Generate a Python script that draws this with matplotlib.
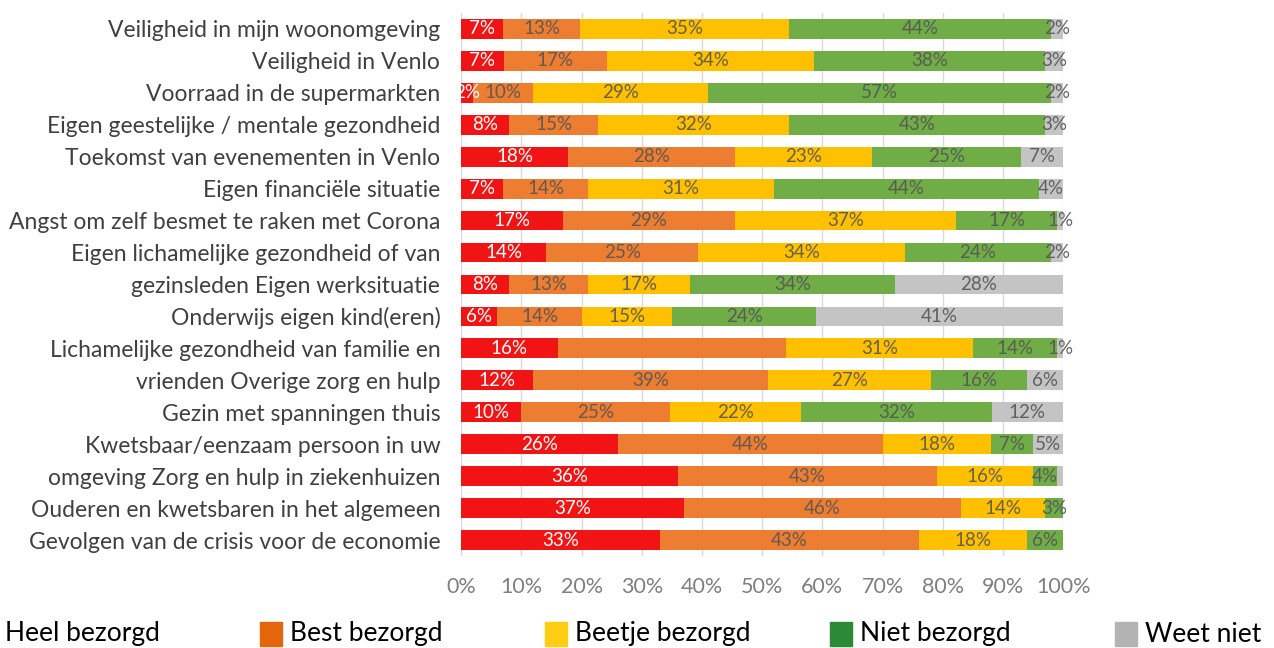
import matplotlib
matplotlib.use("Agg")
import matplotlib.pyplot as plt
import numpy as np
from matplotlib.patches import Rectangle

plt.rcParams["font.family"] = ["Lato", "DejaVu Sans"]

categories = [
    "Veiligheid in mijn woonomgeving",
    "Veiligheid in Venlo",
    "Voorraad in de supermarkten",
    "Eigen geestelijke / mentale gezondheid",
    "Toekomst van evenementen in Venlo",
    "Eigen financiële situatie",
    "Angst om zelf besmet te raken met Corona",
    "Eigen lichamelijke gezondheid of van",
    "gezinsleden Eigen werksituatie",
    "Onderwijs eigen kind(eren)",
    "Lichamelijke gezondheid van familie en",
    "vrienden Overige zorg en hulp",
    "Gezin met spanningen thuis",
    "Kwetsbaar/eenzaam persoon in uw",
    "omgeving Zorg en hulp in ziekenhuizen",
    "Ouderen en kwetsbaren in het algemeen",
    "Gevolgen van de crisis voor de economie",
]

series_names = ["Heel bezorgd", "Best bezorgd", "Beetje bezorgd", "Niet bezorgd", "Weet niet"]

heel = [7, 7, 2, 8, 18, 7, 17, 14, 8, 6, 16, 12, 10, 26, 36, 37, 33]
best = [13, 17, 10, 15, 28, 14, 29, 25, 13, 14, 38, 39, 25, 44, 43, 46, 43]
beetje = [35, 34, 29, 32, 23, 31, 37, 34, 17, 15, 31, 27, 22, 18, 16, 14, 18]
niet = [44, 38, 57, 43, 25, 44, 17, 24, 34, 24, 14, 16, 32, 7, 4, 3, 6]
weet = [2, 3, 2, 3, 7, 4, 1, 2, 28, 41, 1, 6, 12, 5, 1, 0, 0]

# segments shown without a value label in the original (row, series)
unlabeled = {(10, 1), (14, 4)}

bar_colors = ["#f01414", "#ed7d31", "#ffc000", "#70ad47", "#c4c4c4"]
legend_colors = ["#f01414", "#e4650c", "#ffcc14", "#2b8a36", "#b3b3b3"]

data = np.array([heel, best, beetje, niet, weet], dtype=float)
# rounded percentages don't always add to 100; bars are stretched to 100%
shares = data / data.sum(axis=0) * 100

fig = plt.figure(figsize=(12.74, 6.48), dpi=100)
ax = fig.add_axes([0.362, 0.142, 0.4725, 0.838])

y = np.arange(len(categories))
left = np.zeros(len(categories))
for s in range(len(series_names)):
    w = shares[s]
    ax.barh(y, w, left=left, height=0.62, color=bar_colors[s], zorder=2)
    for i, v in enumerate(data[s]):
        if v <= 0 or (i, s) in unlabeled:
            continue
        txt_color = "white" if s == 0 else "#555555"
        ax.text(left[i] + w[i] / 2, y[i], f"{int(v)}%", ha="center", va="center",
                fontsize=13.5, color=txt_color, alpha=0.9 if s else 1, zorder=3)
    left += w

ax.set_xlim(0, 100)
ax.set_ylim(len(categories) - 0.5, -0.5)
ax.set_yticks(y)
ax.set_yticklabels(categories, fontsize=16.5, color="#404040")
ax.set_xticks(np.arange(0, 101, 10))
ax.set_xticklabels([f"{t}%" for t in range(0, 101, 10)], fontsize=15.5, color="#7f7f7f")
ax.tick_params(axis="both", length=0)
ax.tick_params(axis="x", pad=15)
ax.tick_params(axis="y", pad=15)
ax.grid(axis="x", color="#d9d9d9", linewidth=1, zorder=0)
for sp in ax.spines.values():
    sp.set_visible(False)

# legend row drawn along the bottom edge, equally spaced like the original
x0 = -25 / 1274
step = 285 / 1274
for k, name in enumerate(series_names):
    px = x0 + k * step
    fig.patches.append(Rectangle((px, 2 / 648), 22 / 1274, 24 / 648,
                                 transform=fig.transFigure, color=legend_colors[k]))
    fig.text(px + 30 / 1274, 14 / 648, name, fontsize=19, color="black", va="center")

fig.savefig("out.png", dpi=100)
